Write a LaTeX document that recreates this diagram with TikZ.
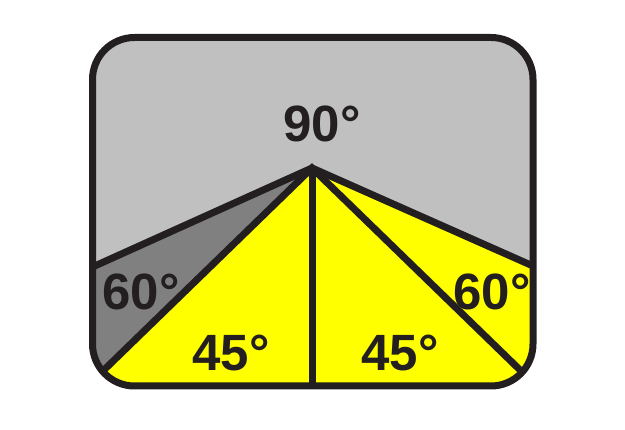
\documentclass[tikz,border=0pt]{standalone}
\usepackage{fontspec}
\setmainfont{Liberation Sans}
\usetikzlibrary{calc}
\definecolor{lightgr}{HTML}{C0C0C0}
\definecolor{darkgr}{HTML}{808080}
\definecolor{yel}{HTML}{FFFF00}
\definecolor{ink}{HTML}{231F20}
\begin{document}
\begin{tikzpicture}[x=1pt,y=-1pt,
  edge/.style={draw=ink,line width=7pt,line join=miter},
  lbl/.style={text=ink,font=\fontsize{51}{51}\selectfont\bfseries,inner sep=0pt}]
\useasboundingbox (0,0) rectangle (625,430);
\coordinate (apex) at (312,168);
\coordinate (L) at ($(312,168)!2!(92.5,267)$);
\coordinate (R) at ($(312,168)!2!(533,266)$);
\coordinate (BL) at ($(312,168)!2!(106,368)$);
\coordinate (BR) at ($(312,168)!2!(518,368)$);
\coordinate (B) at (312,430);
\begin{scope}
  \clip[rounded corners=42pt] (92.5,37.5) rectangle (533,386);
  \fill[lightgr] (0,0) rectangle (625,430);
  \fill[darkgr] (apex) -- (L) -- (BL) -- cycle;
  \fill[yel] (apex) -- (BL) -- (BR) -- (700,700) -- (R) -- cycle;
  \draw[edge] (L) -- (apex) -- (R);
  \draw[edge] (BL) -- (apex) -- (BR);
  \draw[edge] (apex) -- (B);
\end{scope}
\draw[edge,rounded corners=42pt] (92.5,37.5) rectangle (533,386);
\node[lbl] (t90) at (322,124) {90°};
\node[lbl] (t60l) at (141,292) {60°};
\node[lbl] (t60r) at (492,292) {60°};
\node[lbl] (t45l) at (231,353) {45°};
\node[lbl] (t45r) at (400,353) {45°};
\end{tikzpicture}
\end{document}
